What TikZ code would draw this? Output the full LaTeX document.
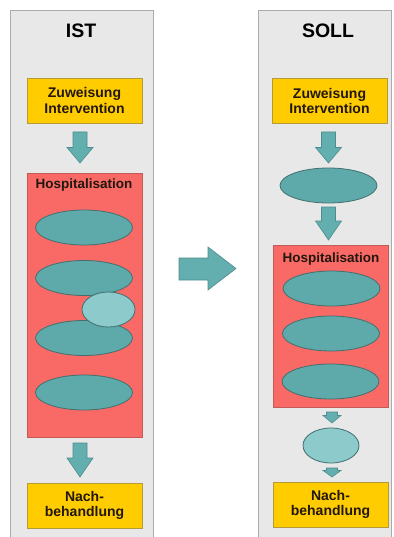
\documentclass[tikz,border=0pt]{standalone}
\usepackage{fontspec}
\setmainfont{Liberation Sans}
\usetikzlibrary{shapes.geometric}
\begin{document}
\definecolor{panelfill}{HTML}{E8E8E8}
\definecolor{panelline}{HTML}{ABABAB}
\definecolor{yel}{HTML}{FFCC00}
\definecolor{yelline}{HTML}{B59A3A}
\definecolor{hosp}{HTML}{F96A66}
\definecolor{hospline}{HTML}{C25A55}
\definecolor{teal}{HTML}{5EA9A9}
\definecolor{tealline}{HTML}{416F70}
\definecolor{lteal}{HTML}{8DCACB}
\definecolor{arrfill}{HTML}{63AEAE}
\definecolor{arrline}{HTML}{4E8D8D}
\definecolor{txt}{HTML}{22170E}
\newcommand\BlockDown[6]{% xc, ytop, ybot, shaft half, head half, head start
  \draw[blockarrow] (#1-#4,#2) -- (#1+#4,#2) -- (#1+#4,#6) -- (#1+#5,#6) -- (#1,#3)
    -- (#1-#5,#6) -- (#1-#4,#6) -- cycle;}
\begin{tikzpicture}[x=1pt,y=-1pt,
  panel/.style={draw=panelline,fill=panelfill,line width=0.8pt,anchor=north west,inner sep=0pt},
  ybox/.style={draw=yelline,fill=yel,line width=0.7pt,minimum width=115pt,minimum height=45pt,
     inner sep=0pt,align=center,font=\fontsize{14}{15.5}\selectfont\bfseries,text=txt},
  hospbox/.style={draw=hospline,fill=hosp,line width=0.7pt,anchor=north west,inner sep=0pt},
  title/.style={font=\fontsize{19.5}{20}\selectfont\bfseries,text=black},
  htitle/.style={font=\fontsize{13.5}{14}\selectfont\bfseries,text=txt},
  ell/.style={ellipse,draw=tealline,fill=teal,line width=0.8pt,minimum width=97pt,minimum height=35pt,inner sep=0pt},
  lell/.style={ellipse,draw=tealline,fill=lteal,line width=0.8pt,inner sep=0pt},
  blockarrow/.style={draw=arrline,fill=arrfill,line width=0.6pt,line join=miter}]
\useasboundingbox (0,0) rectangle (393,537);
\fill[white] (0,0) rectangle (393,537);
% panels
\node[panel,minimum width=143pt,minimum height=530pt] (pl) at (10,10) {};
\node[panel,minimum width=133pt,minimum height=530pt] (pr) at (257.5,10) {};
% ---- IST ----
\node[title] (ist) at (81,30.5) {IST};
\node[ybox] (zl) at (84.5,100.5) {Zuweisung\\Intervention};
\node[hospbox,minimum width=115pt,minimum height=264pt] (hl) at (27,173) {};
\node[htitle] (hlt) at (84,185) {Hospitalisation};
\node[ell] (e1) at (84,227.5) {};
\node[ell] (e2) at (84,278) {};
\node[ell] (e3) at (84,338) {};
\node[lell,minimum width=53pt,minimum height=35pt] (le) at (108.5,309.5) {};
\node[ell] (e4) at (84,392.5) {};
\node[ybox] (nl) at (84.5,505.5) {Nach-\\behandlung};
\BlockDown{80}{132}{163}{7}{13}{147.5}
\BlockDown{80}{443}{477}{7}{13}{458}
% ---- middle arrow ----
\draw[blockarrow] (179,258) -- (208,258) -- (208,247) -- (236,268.5) -- (208,290) -- (208,280) -- (179,280) -- cycle;
% ---- SOLL ----
\node[title] (soll) at (328,30.5) {SOLL};
\node[ybox] (zr) at (329.5,101) {Zuweisung\\Intervention};
\BlockDown{328.5}{132}{163}{7}{13}{147.5}
\node[ell] (r0) at (328.5,185.5) {};
\BlockDown{328.5}{207}{240}{7}{13}{221}
\node[hospbox,minimum width=115pt,minimum height=162pt] (hr) at (273,245) {};
\node[htitle] (hrt) at (331,259) {Hospitalisation};
\node[ell] (r1) at (331.5,288.5) {};
\node[ell] (r2) at (331,333.5) {};
\node[ell] (r3) at (330.5,381.5) {};
\BlockDown{332}{412}{423}{5.5}{9}{415.5}
\node[lell,minimum width=56pt,minimum height=35pt] (rl) at (331,445.5) {};
\BlockDown{332}{468}{477}{5.5}{9}{470.5}
\node[ybox] (nr) at (330.5,504.5) {Nach-\\behandlung};
\end{tikzpicture}
\end{document}
